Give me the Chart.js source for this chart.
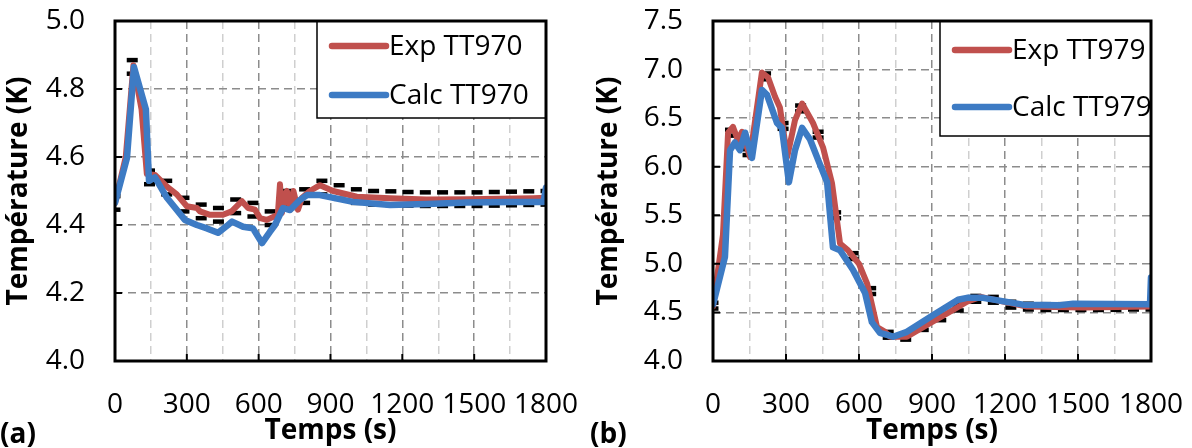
<!DOCTYPE html>
<html lang="fr">
<head>
<meta charset="UTF-8" />
<title>Température TT970 / TT979</title>
<script src="https://cdn.jsdelivr.net/npm/chart.js@4.4.1/dist/chart.umd.min.js"></script>
<style>
  body { margin: 0; background: #fff; }
  #wrap { position: relative; width: 1192px; height: 448px; }
  canvas { position: absolute; top: 0; }
</style>
</head>
<body>
<div id="wrap">
  <canvas id="chartA" width="590" height="448" style="left:0"></canvas>
  <canvas id="chartB" width="602" height="448" style="left:590px"></canvas>
</div>
<script>
// ---- (a) TT970 ----
const timeExpA = [0, 45, 77, 111, 133, 167, 222, 258, 300, 342, 355, 397, 451, 487, 530, 556, 585, 606, 634, 661, 680, 689, 697, 710, 718, 731, 745, 764, 781, 814, 856, 911, 1010, 1149, 1300, 1470, 1747, 1800];
const tempExpA = [4.465, 4.60, 4.87, 4.74, 4.55, 4.547, 4.51, 4.49, 4.455, 4.45, 4.44, 4.43, 4.43, 4.44, 4.47, 4.45, 4.445, 4.42, 4.415, 4.424, 4.43, 4.52, 4.435, 4.49, 4.50, 4.445, 4.50, 4.445, 4.48, 4.50, 4.517, 4.50, 4.483, 4.479, 4.475, 4.476, 4.479, 4.48];
const timeCalcA = [0, 50, 79, 129, 142, 167, 217, 292, 342, 384, 430, 472, 489, 535, 576, 614, 647, 668, 702, 731, 773, 802, 856, 994, 1149, 1300, 1470, 1650, 1790, 1800];
const tempCalcA = [4.465, 4.597, 4.865, 4.74, 4.53, 4.54, 4.48, 4.415, 4.40, 4.39, 4.377, 4.40, 4.41, 4.395, 4.39, 4.347, 4.38, 4.40, 4.45, 4.444, 4.474, 4.488, 4.488, 4.468, 4.459, 4.462, 4.466, 4.468, 4.468, 4.51];
// error bars on the measurement (centre values, +/- errA)
const errTimeA = [0, 72, 144, 216, 288, 360, 432, 504, 576, 648, 720, 792, 864, 936, 1008, 1080, 1152, 1224, 1296, 1368, 1440, 1512, 1584, 1656, 1728, 1800];
const errMidA = [4.465, 4.865, 4.54, 4.51, 4.46, 4.44, 4.43, 4.455, 4.445, 4.42, 4.48, 4.485, 4.51, 4.497, 4.485, 4.48, 4.479, 4.477, 4.476, 4.476, 4.476, 4.476, 4.477, 4.478, 4.479, 4.48];
const errA = 0.02;

// ---- (b) TT979 ----
const timeExpB = [0, 41, 62, 82, 103, 119, 152, 201, 226, 255, 275, 305, 337, 366, 411, 452, 489, 522, 555, 600, 633, 674, 707, 728, 797, 892, 962, 1044, 1100, 1290, 1521, 1796, 1800];
const tempExpB = [4.56, 5.3, 6.35, 6.41, 6.27, 6.36, 6.1, 6.97, 6.92, 6.72, 6.61, 6.1, 6.48, 6.65, 6.45, 6.20, 5.83, 5.21, 5.14, 5.0, 4.80, 4.35, 4.30, 4.25, 4.25, 4.39, 4.49, 4.61, 4.66, 4.56, 4.55, 4.56, 4.56];
const timeCalcB = [0, 49, 70, 90, 111, 132, 160, 201, 222, 263, 283, 312, 337, 366, 399, 432, 469, 493, 522, 575, 625, 653, 686, 740, 797, 904, 1007, 1044, 1110, 1274, 1426, 1480, 1796, 1800];
const tempCalcB = [4.58, 5.07, 6.17, 6.25, 6.17, 6.35, 6.09, 6.79, 6.74, 6.45, 6.40, 5.84, 6.17, 6.40, 6.28, 6.07, 5.84, 5.17, 5.14, 4.94, 4.70, 4.40, 4.29, 4.25, 4.30, 4.47, 4.63, 4.65, 4.65, 4.58, 4.575, 4.59, 4.585, 4.86];
const errTimeB = [0, 72, 144, 216, 288, 360, 432, 504, 576, 648, 720, 792, 864, 936, 1008, 1080, 1152, 1224, 1296, 1368, 1440, 1512, 1584, 1656, 1728, 1800];
const errMidB = [4.57, 6.35, 6.15, 6.93, 6.42, 6.6, 6.33, 5.5, 5.08, 4.72, 4.27, 4.25, 4.35, 4.45, 4.55, 4.64, 4.63, 4.58, 4.56, 4.555, 4.555, 4.555, 4.555, 4.557, 4.56, 4.56];
const errB = 0.03;

const xTickLabels = ["0", "300", "600", "900", "1200", "1500", "1800"];

const RED = "#C0504D";
const BLUE = "#3D7BC4";
const FONT = "'Open Sans', 'Noto Sans', sans-serif";

function pts(xs, ys) {
  return xs.map((x, i) => ({ x: x, y: ys[i] }));
}

// frame, inner tick marks, legend box and panel letter
const panelPlugin = {
  id: "panel",
  afterDatasetsDraw(chart, args, opts) {
    const ctx = chart.ctx;
    const a = chart.chartArea;
    const xs = chart.scales.x, ys = chart.scales.y;
    ctx.save();
    // tick marks inside the plot
    ctx.strokeStyle = "#000";
    ctx.lineWidth = 2;
    ctx.beginPath();
    ys.ticks.forEach((t) => {
      const py = ys.getPixelForValue(t.value);
      ctx.moveTo(a.left, py);
      ctx.lineTo(a.left + 7, py);
    });
    xs.ticks.forEach((t) => {
      if (t.value % 300 !== 0) return;
      const px = xs.getPixelForValue(t.value);
      ctx.moveTo(px, a.bottom);
      ctx.lineTo(px, a.bottom - 7);
    });
    ctx.stroke();

    // legend box
    const lg = opts.legend;
    const bx = a.right - lg.width, by = a.top;
    ctx.fillStyle = "#fff";
    ctx.fillRect(bx, by, lg.width, lg.height);
    ctx.lineWidth = 1.5;
    ctx.strokeStyle = "#000";
    ctx.strokeRect(bx, by, lg.width, lg.height);
    ctx.font = "28px " + FONT;
    ctx.textBaseline = "middle";
    ctx.textAlign = "left";
    lg.order.forEach((di, k) => {
      const ds = chart.data.datasets[di];
      const ry = by + lg.rows[k];
      ctx.strokeStyle = ds.borderColor;
      ctx.lineWidth = 6.5;
      ctx.lineCap = "round";
      ctx.beginPath();
      ctx.moveTo(bx + 15, ry);
      ctx.lineTo(bx + 69, ry);
      ctx.stroke();
      ctx.fillStyle = "#000";
      ctx.fillText(ds.label, bx + 72, ry + 1);
    });

    // frame
    ctx.lineCap = "butt";
    ctx.lineWidth = 3;
    ctx.strokeStyle = "#000";
    ctx.strokeRect(a.left, a.top, a.right - a.left, a.bottom - a.top);

    // panel letter
    ctx.fillStyle = "#000";
    ctx.font = "bold 28px " + FONT;
    ctx.textBaseline = "alphabetic";
    ctx.fillText(opts.letter, 0, 443);
    ctx.restore();
  }
};

function makeChart(id, cfg) {
  const capStyle = { showLine: false, pointStyle: "line", pointRadius: 5.5, pointBorderWidth: 4.5, pointBorderColor: "#000", pointBackgroundColor: "#000" };
  const lineStyle = { showLine: true, pointRadius: 0, tension: 0, borderJoinStyle: "round", borderCapStyle: "round" };
  const datasets = [
    Object.assign({ label: cfg.calcLabel, data: pts(cfg.tCalc, cfg.vCalc), borderColor: BLUE, borderWidth: 6.5 }, lineStyle),
    Object.assign({ label: cfg.expLabel, data: pts(cfg.tExp, cfg.vExp), borderColor: RED, borderWidth: 6 }, lineStyle),
    Object.assign({ label: "err+", data: cfg.tErr.map((t, i) => ({ x: t, y: cfg.mErr[i] + cfg.err })) }, capStyle),
    Object.assign({ label: "err-", data: cfg.tErr.map((t, i) => ({ x: t, y: cfg.mErr[i] - cfg.err })) }, capStyle)
  ];
  return new Chart(document.getElementById(id), {
    type: "scatter",
    data: { datasets: datasets },
    plugins: [panelPlugin],
    options: {
      responsive: false,
      animation: false,
      events: [],
      layout: { padding: { top: 21, right: cfg.padRight, left: 0, bottom: 0 } },
      plugins: {
        legend: { display: false },
        tooltip: { enabled: false },
        panel: { letter: cfg.letter, legend: cfg.legend }
      },
      scales: {
        x: {
          type: "linear",
          min: 0, max: 1800,
          afterFit: (s) => { s.height = 87; s.paddingLeft = 0; s.paddingRight = 0; },
          ticks: {
            stepSize: 150, autoSkip: false, maxRotation: 0, padding: 27,
            color: "#000", font: { family: FONT, size: 28 },
            callback: (v) => (v % 300 === 0 ? xTickLabels[v / 300] : "")
          },
          grid: {
            drawTicks: false, lineWidth: 1.5,
            color: (c) => (c.tick && c.tick.value % 300 === 0 ? "#8c8c8c" : "#cfcfcf")
          },
          border: { display: false, dash: [8, 5] },
          title: { display: true, text: "Temps (s)", color: "#000", padding: 0, font: { family: FONT, size: 28, weight: "bold" } }
        },
        y: {
          min: 4, max: cfg.yMax,
          afterFit: (s) => { s.width = cfg.yWidth; s.paddingTop = 0; s.paddingBottom = 0; },
          ticks: {
            stepSize: cfg.yStep, padding: 30, color: "#000",
            font: { family: FONT, size: 28 },
            callback: (v) => v.toFixed(1)
          },
          grid: { drawTicks: false, lineWidth: 1.5, color: "#8c8c8c" },
          border: { display: false, dash: [8, 5] },
          title: { display: true, text: "Température (K)", color: "#000", padding: { top: 2, bottom: 0 }, font: { family: FONT, size: 28, weight: "bold" } }
        }
      }
    }
  });
}

makeChart("chartA", {
  letter: "(a)", expLabel: "Exp TT970", calcLabel: "Calc TT970",
  tExp: timeExpA, vExp: tempExpA, tCalc: timeCalcA, vCalc: tempCalcA,
  tErr: errTimeA, mErr: errMidA, err: errA,
  yMax: 5, yStep: 0.2, yWidth: 115, padRight: 44,
  legend: { width: 229, height: 97, rows: [25, 74], order: [1, 0] }
});

makeChart("chartB", {
  letter: "(b)", expLabel: "Exp TT979", calcLabel: "Calc TT979",
  tExp: timeExpB, vExp: tempExpB, tCalc: timeCalcB, vCalc: tempCalcB,
  tErr: errTimeB, mErr: errMidB, err: errB,
  yMax: 7.5, yStep: 0.5, yWidth: 123, padRight: 41,
  legend: { width: 211, height: 115, rows: [29, 86], order: [1, 0] }
});
</script>
</body>
</html>
